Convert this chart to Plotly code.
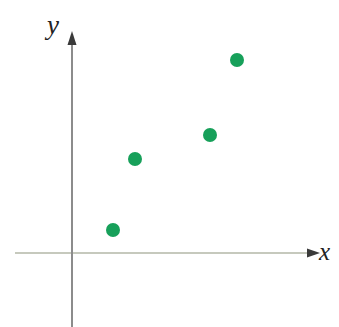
import plotly.graph_objects as go

# data (arbitrary units, origin at axes intersection)
x_vals = [2.05, 3.15, 6.9, 8.25]
y_vals = [1.15, 4.7, 5.9, 9.65]
axis_labels = ["x", "y"]

S = 20.0      # px per unit
OFF = 8       # default page body margin
OX, OY = 72, 253  # page pixel of origin
W, H = 339 - 2 * OFF, 327 - OFF
X_MIN, X_MAX = (OFF - OX) / S, (OFF + W - OX) / S
Y_MIN, Y_MAX = (OY - (OFF + H)) / S, (OY - OFF) / S

fig = go.Figure()
fig.add_trace(go.Scatter(
    x=x_vals, y=y_vals, mode="markers",
    marker=dict(size=14, color="#17a05a", line=dict(width=0)),
    hoverinfo="skip", showlegend=False,
))

shapes = [
    # x axis line
    dict(type="line", x0=(15 - OX) / S, y0=0, x1=(309 - OX) / S, y1=0,
         line=dict(color="#c6c9bd", width=2), layer="below"),
    # y axis line
    dict(type="line", x0=0, y0=Y_MIN, x1=0, y1=(OY - 42) / S,
         line=dict(color="#8c8c8c", width=2), layer="below"),
    # x arrow head
    dict(type="path",
         path=f"M {(320-OX)/S} 0 L {(307-OX)/S} {4.5/S} L {(307-OX)/S} {-4.5/S} Z",
         fillcolor="#3a3a3a", line=dict(width=0)),
    # y arrow head
    dict(type="path",
         path=f"M 0 {(OY-31)/S} L {4.5/S} {(OY-45)/S} L {-4.5/S} {(OY-45)/S} Z",
         fillcolor="#3a3a3a", line=dict(width=0)),
]

annotations = [
    dict(x=(331 - OX) / S, y=(OY - 251) / S, text="<i>" + axis_labels[0] + "</i>",
         showarrow=False, font=dict(family="Liberation Serif", size=25, color="#222"),
         xanchor="right", yanchor="middle", xshift=1),
    dict(x=(51 - OX) / S, y=(OY - 25) / S, text="<i>" + axis_labels[1] + "</i>",
         showarrow=False, font=dict(family="Liberation Serif", size=27, color="#222"),
         xanchor="center", yanchor="middle"),
]

fig.update_layout(
    width=W, height=H,
    margin=dict(l=0, r=0, t=0, b=0),
    paper_bgcolor="white", plot_bgcolor="white",
    xaxis=dict(range=[X_MIN, X_MAX], visible=False, fixedrange=True),
    yaxis=dict(range=[Y_MIN, Y_MAX], visible=False, fixedrange=True),
    shapes=shapes, annotations=annotations,
)

fig.write_html("out.html")
